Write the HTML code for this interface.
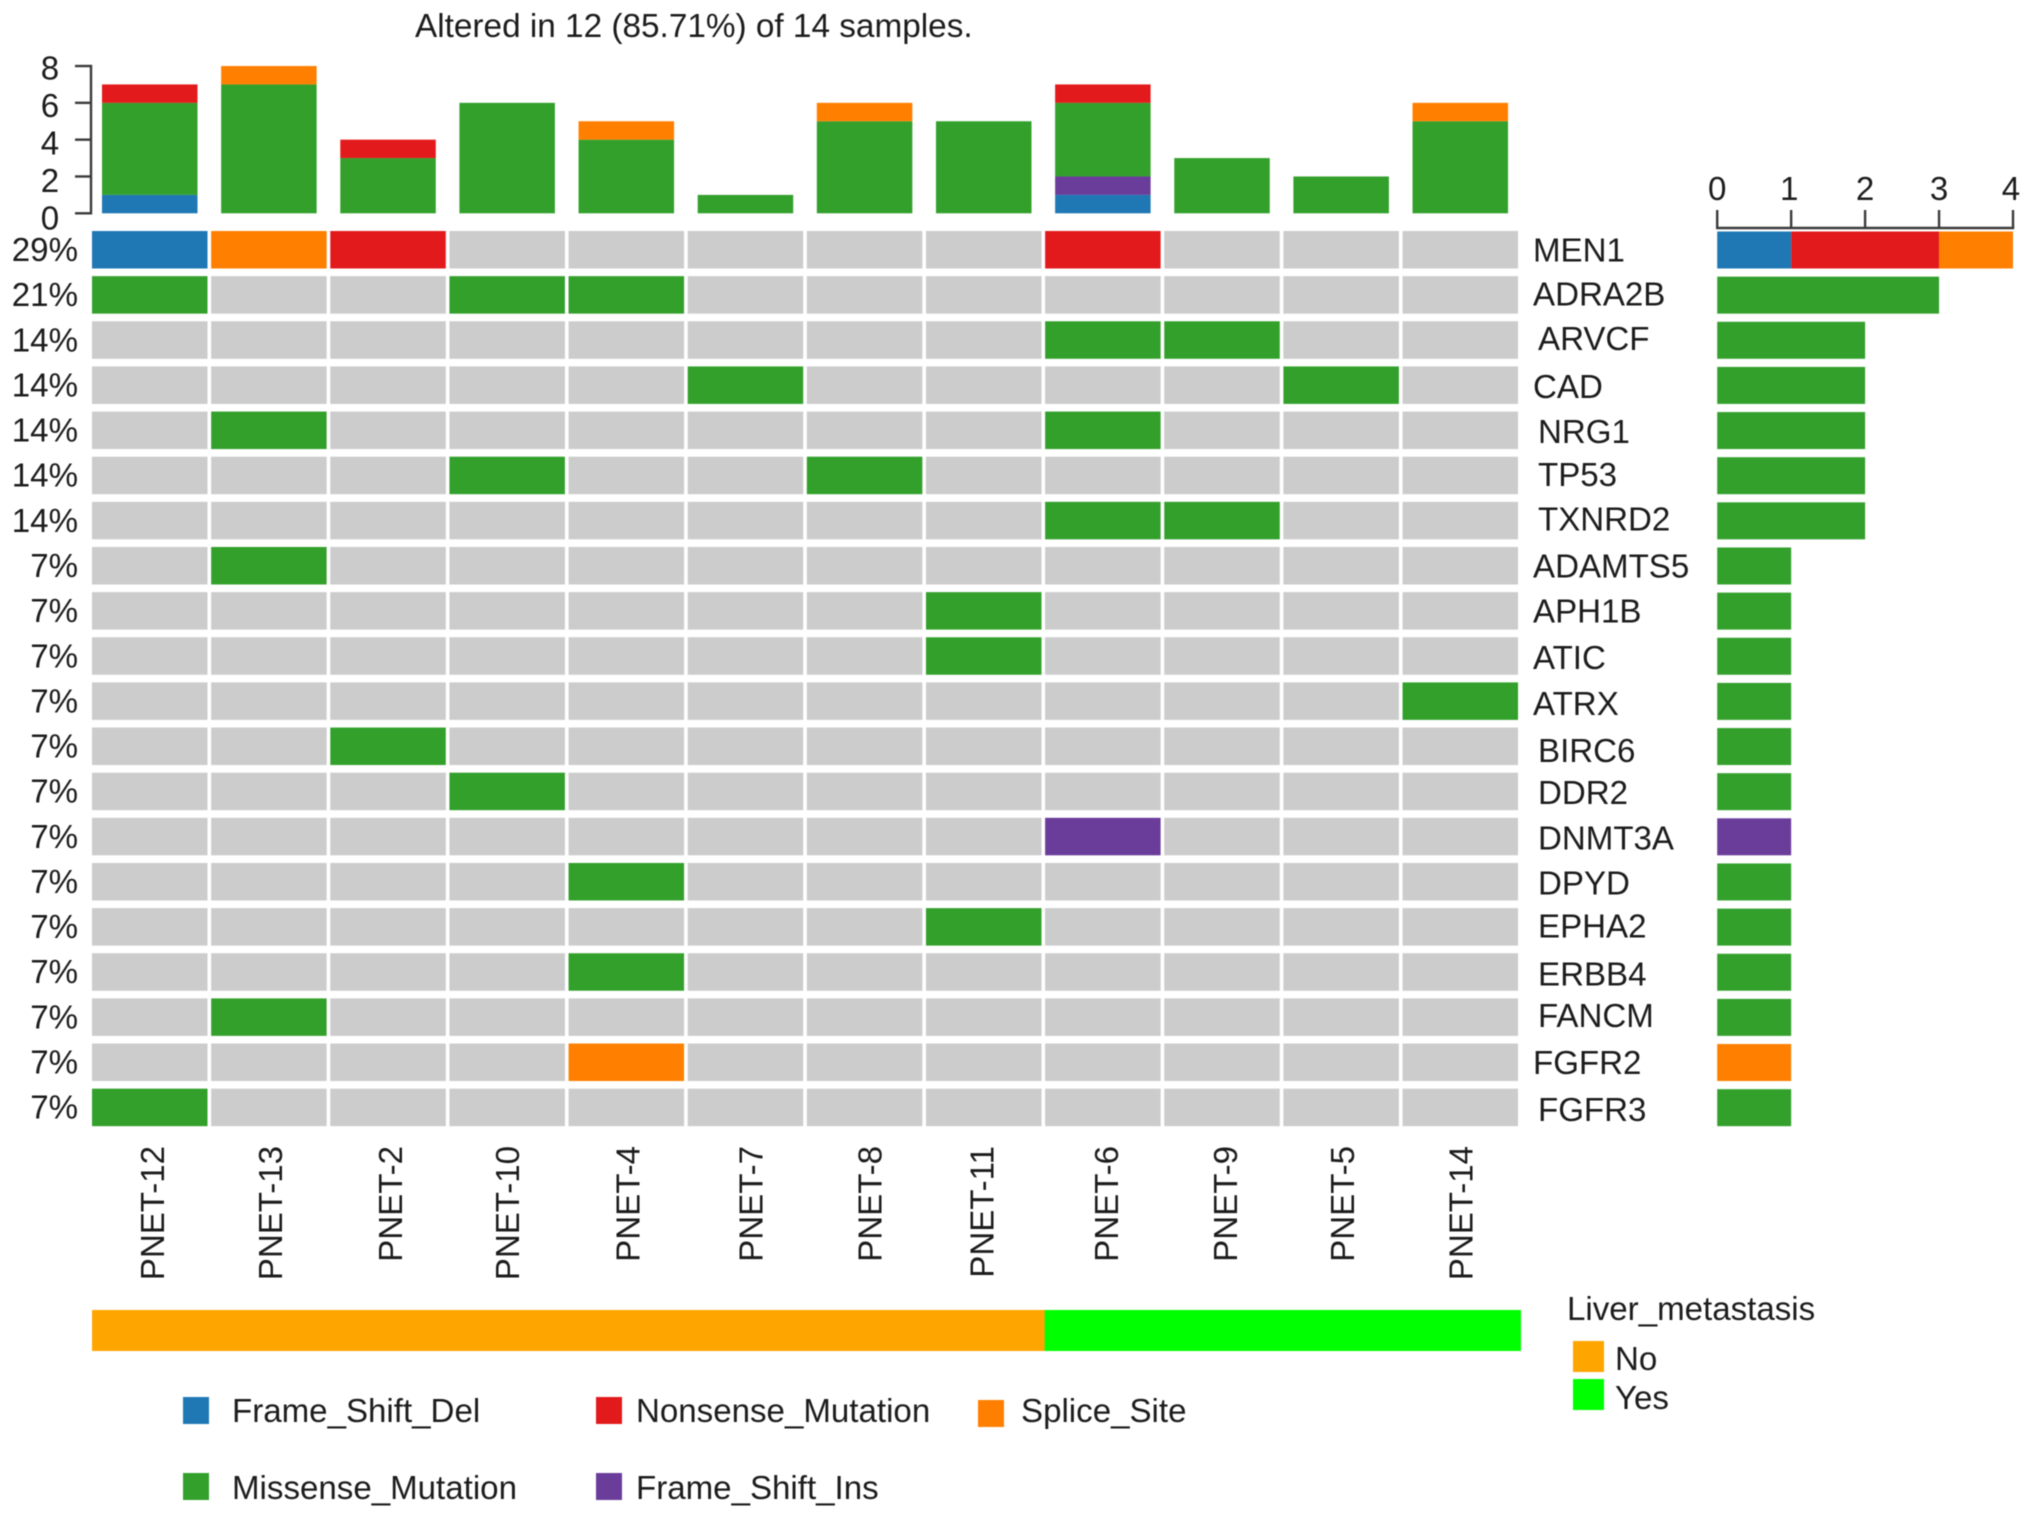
<!DOCTYPE html>
<html lang="en">
<head>
<meta charset="utf-8">
<title>Oncoplot</title>
<style>
html,body{margin:0;padding:0;background:#fff;}
svg{display:block;}
text{font-family:"Liberation Sans",Arial,sans-serif;font-size:33.1px;fill:#1c1c1c;}
</style>
</head>
<body>
<svg id="chart" xmlns="http://www.w3.org/2000/svg" width="2032" height="1516" viewBox="0 0 2032 1516">
  <defs>
    <filter id="soften" x="0" y="0" width="100%" height="100%" filterUnits="userSpaceOnUse" primitiveUnits="userSpaceOnUse">
      <feGaussianBlur stdDeviation="0.6"/>
    </filter>
  </defs>
  <rect x="0" y="0" width="2032" height="1516" fill="#ffffff"/>
  <g id="plot" style="filter:blur(0.6px)">
  <text x="415" y="37" style="font-size:33.35px">Altered in 12 (85.71%) of 14 samples.</text>

  <g>
    <rect x="183" y="1397" width="26" height="27" fill="#1F78B4"/>
    <text x="232" y="1422">Frame_Shift_Del</text>
    <rect x="183" y="1473" width="26" height="27" fill="#33A02C"/>
    <text x="232" y="1499">Missense_Mutation</text>
    <rect x="596" y="1397" width="26" height="27" fill="#E31A1C"/>
    <text x="636" y="1422">Nonsense_Mutation</text>
    <rect x="596" y="1473" width="26" height="27" fill="#6A3D9A"/>
    <text x="636" y="1499">Frame_Shift_Ins</text>
    <rect x="978" y="1400" width="26" height="27" fill="#FF7F00"/>
    <text x="1021" y="1422">Splice_Site</text>
  </g>

  <g>
    <text x="1567" y="1320">Liver_metastasis</text>
    <rect x="1573" y="1341" width="31" height="31" fill="#FFA500"/>
    <text x="1615" y="1370">No</text>
    <rect x="1573" y="1379" width="31" height="31" fill="#00FF00"/>
    <text x="1615" y="1409">Yes</text>
  </g>
  </g>
</svg>

<script>
// ---- Data ----
const sampleNames = ['PNET-12','PNET-13','PNET-2','PNET-10','PNET-4','PNET-7','PNET-8','PNET-11','PNET-6','PNET-9','PNET-5','PNET-14'];
const geneNames = ['MEN1','ADRA2B','ARVCF','CAD','NRG1','TP53','TXNRD2','ADAMTS5','APH1B','ATIC','ATRX','BIRC6','DDR2','DNMT3A','DPYD','EPHA2','ERBB4','FANCM','FGFR2','FGFR3'];
const genePercentLabels = ['29%','21%','14%','14%','14%','14%','14%','7%','7%','7%','7%','7%','7%','7%','7%','7%','7%','7%','7%','7%'];
const mutationTypes = ['frame-shift-del','frame-shift-ins','missense','nonsense','splice-site'];

// Per-sample mutation counts (top stacked bars)
const sampleFrameShiftDel = [1,0,0,0,0,0,0,0,1,0,0,0];
const sampleFrameShiftIns = [0,0,0,0,0,0,0,0,1,0,0,0];
const sampleMissense      = [5,7,3,6,4,1,5,5,4,3,2,5];
const sampleNonsense      = [1,0,1,0,0,0,0,0,1,0,0,0];
const sampleSplice        = [0,1,0,0,1,0,1,0,0,0,0,1];

// Per-gene mutation counts (right stacked bars)
const geneFrameShiftDel = [1,0,0,0,0,0,0,0,0,0,0,0,0,0,0,0,0,0,0,0];
const geneNonsense      = [2,0,0,0,0,0,0,0,0,0,0,0,0,0,0,0,0,0,0,0];
const geneSplice        = [1,0,0,0,0,0,0,0,0,0,0,0,0,0,0,0,0,0,1,0];
const geneMissense      = [0,3,2,2,2,2,2,1,1,1,1,1,1,0,1,1,1,1,0,1];
const geneFrameShiftIns = [0,0,0,0,0,0,0,0,0,0,0,0,0,1,0,0,0,0,0,0];

// Mutation grid: 0 none, 1 frame-shift del, 2 frame-shift ins, 3 missense, 4 nonsense, 5 splice site
const mutationGrid = [
  [1,5,4,0,0,0,0,0,4,0,0,0],
  [3,0,0,3,3,0,0,0,0,0,0,0],
  [0,0,0,0,0,0,0,0,3,3,0,0],
  [0,0,0,0,0,3,0,0,0,0,3,0],
  [0,3,0,0,0,0,0,0,3,0,0,0],
  [0,0,0,3,0,0,3,0,0,0,0,0],
  [0,0,0,0,0,0,0,0,3,3,0,0],
  [0,3,0,0,0,0,0,0,0,0,0,0],
  [0,0,0,0,0,0,0,3,0,0,0,0],
  [0,0,0,0,0,0,0,3,0,0,0,0],
  [0,0,0,0,0,0,0,0,0,0,0,3],
  [0,0,3,0,0,0,0,0,0,0,0,0],
  [0,0,0,3,0,0,0,0,0,0,0,0],
  [0,0,0,0,0,0,0,0,2,0,0,0],
  [0,0,0,0,3,0,0,0,0,0,0,0],
  [0,0,0,0,0,0,0,3,0,0,0,0],
  [0,0,0,0,3,0,0,0,0,0,0,0],
  [0,3,0,0,0,0,0,0,0,0,0,0],
  [0,0,0,0,5,0,0,0,0,0,0,0],
  [3,0,0,0,0,0,0,0,0,0,0,0]
];

// Annotation: liver metastasis per sample
const liverMetastasis = ['No','No','No','No','No','No','No','No','Yes','Yes','Yes','Yes'];

const topTicks = [0,2,4,6,8];
const rightTicks = [0,1,2,3,4];

// ---- Styling / layout ----
const typeColors = {'frame-shift-del':'#1F78B4','frame-shift-ins':'#6A3D9A','missense':'#33A02C','nonsense':'#E31A1C','splice-site':'#FF7F00'};
const gridColors = ['#CCCCCC','#1F78B4','#6A3D9A','#33A02C','#E31A1C','#FF7F00'];
const liverColors = {No:'#FFA500',Yes:'#00FF00'};
const axisColor = '#3a3a3a';
// Hand placement quirks of the source figure's labels
const geneLabelNudgeX = [0,0,5,0,5,5,5,0,0,0,0,5,5,5,5,5,5,5,0,5];
const geneLabelNudgeY = [0,-1,-2,1,1,-1,-2,0,0,1,2,4,1,1,1,-1,2,-2,0,2];
const sampleLabelNudgeX = [-1,-2,-1,-3,-2,2,2,-5,0,0,-2,-3];
const rightLabelNudgeX = [0,-2,0,0,-2];

// ---- Axis functions ----
const colX = i => 92 + 119.14 * i;
const rowY = j => 231 + 45.14 * j;
const CELL_W = 115.5, CELL_H = 37.5;
const topY = v => 213.3 - 18.41 * v;
const topLabelY = v => 229.5 - 18.75 * v;
const rightX = v => 1717.2 + 73.95 * v;
const annotX = i => 92 + 119.08 * i;

const svgNS = 'http://www.w3.org/2000/svg';
const root = document.getElementById('plot');
function make(tag, parent, attrs, txt){
  const el = document.createElementNS(svgNS, tag);
  for (const k in attrs) el.setAttribute(k, attrs[k]);
  if (txt !== undefined) el.textContent = txt;
  parent.appendChild(el);
  return el;
}
function group(parent){ return make('g', parent, {}); }

// Top bars
const topGroup = group(root);


const sampleSeries = [sampleFrameShiftDel, sampleFrameShiftIns, sampleMissense, sampleNonsense, sampleSplice];
sampleNames.forEach((s, i) => {
  let acc = 0;
  sampleSeries.forEach((series, t) => {
    const v = series[i];
    if (!v) return;
    const bar = make('rect', topGroup, {x: colX(i) + 10, y: topY(acc + v), width: 95.5, height: topY(acc) - topY(acc + v), fill: typeColors[mutationTypes[t]]});
    
    
    acc += v;
  });
});

// Top axis
const topAxis = group(root);


const topAxisLine = make('line', topAxis, {x1: 91, x2: 91, y1: topY(8), y2: topY(0), stroke: axisColor, 'stroke-width': 2.4, 'stroke-linecap': 'square'});


topTicks.forEach(v => {
  const tick = make('line', topAxis, {x1: 75, x2: 91, y1: topY(v), y2: topY(v), stroke: axisColor, 'stroke-width': 2.4});
  
  
  const label = make('text', topAxis, {x: 50, y: topLabelY(v), 'text-anchor': 'middle'}, String(v));
  
  
});

// Grid
const gridGroup = group(root);


mutationGrid.forEach((row, j) => {
  row.forEach((code, i) => {
    const cell = make('rect', gridGroup, {x: colX(i), y: rowY(j), width: CELL_W, height: CELL_H, fill: gridColors[code]});
    
    
  });
});

// Row labels
const rowLabels = group(root);


geneNames.forEach((g, j) => {
  const pct = make('text', rowLabels, {x: 78, y: rowY(j) + 30, 'text-anchor': 'end'}, genePercentLabels[j]);
  
  
  const gene = make('text', rowLabels, {x: 1533 + geneLabelNudgeX[j], y: rowY(j) + 30.5 + geneLabelNudgeY[j]}, g);
  
  
});

// Right bars
const rightGroup = group(root);


const geneSeries = [geneFrameShiftDel, geneFrameShiftIns, geneMissense, geneNonsense, geneSplice];
geneNames.forEach((g, j) => {
  let acc = 0;
  geneSeries.forEach((series, t) => {
    const v = series[j];
    if (!v) return;
    const bar = make('rect', rightGroup, {x: rightX(acc), y: rowY(j) + 0.5, width: rightX(acc + v) - rightX(acc), height: CELL_H - 0.5, fill: typeColors[mutationTypes[t]]});
    
    
    acc += v;
  });
});

// Right axis
const rightAxis = group(root);


const rightAxisLine = make('line', rightAxis, {x1: rightX(0), x2: rightX(4), y1: 228, y2: 228, stroke: axisColor, 'stroke-width': 2.4, 'stroke-linecap': 'square'});


rightTicks.forEach((v, k) => {
  const tick = make('line', rightAxis, {x1: rightX(v), x2: rightX(v), y1: 210, y2: 228, stroke: axisColor, 'stroke-width': 2.4});
  
  
  const label = make('text', rightAxis, {x: rightX(v) + rightLabelNudgeX[k], y: 200, 'text-anchor': 'middle'}, String(v));
  
  
});

// Sample labels
const sampleLabels = group(root);


sampleNames.forEach((s, i) => {
  const bx = colX(i) + CELL_W / 2 + 15 + sampleLabelNudgeX[i];
  const label = make('text', sampleLabels, {transform: 'translate(' + bx + ',1146) rotate(-90)', 'text-anchor': 'end', x: 0, y: 0}, s);
  
  
});

// Annotation track
const annotGroup = group(root);


liverMetastasis.forEach((status, i) => {
  const seg = make('rect', annotGroup, {x: annotX(i), y: 1310, width: 119.08 + (i < 11 ? 0.5 : 0), height: 41, fill: liverColors[status]});
  
  
});
</script>
</body>
</html>
